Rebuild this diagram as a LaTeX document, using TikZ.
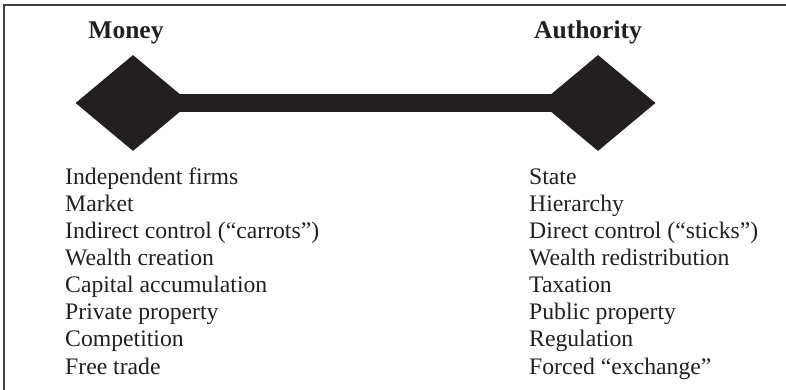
\documentclass[tikz,border=0pt]{standalone}
\usepackage{fontspec}
\setmainfont{Liberation Serif}
\usetikzlibrary{shapes.geometric}
\definecolor{ink}{HTML}{231F20}
\begin{document}
\begin{tikzpicture}[x=1pt,y=-1pt,
  pole/.style={diamond, fill=ink, draw=none, inner sep=0pt,
    minimum width=115pt, minimum height=96pt},
  head/.style={anchor=base, text=ink, font=\fontsize{25.5}{29}\selectfont\bfseries},
  item/.style={anchor=base west, text=ink, inner sep=0pt, font=\fontsize{23.7}{27}\selectfont},
  frame/.style={draw=ink!85, line width=1.6pt}]
  \useasboundingbox (0,0) rectangle (786,390);
  % open frame: top and left rules
  \coordinate (ftl) at (4,5);
  \coordinate (ftr) at (790,5);
  \coordinate (fbl) at (4,395);
  \draw[frame] (ftr) -- (ftl) -- (fbl);
  % the two poles joined by a thick bar
  \node[pole] (money) at (133,103) {};
  \node[pole] (auth) at (598,103) {};
  \draw[ink, line width=18pt] (money.center) -- (auth.center);
  \node[head] (moneyhead) at (126,39) {Money};
  \node[head] (authhead) at (588,39) {Authority};
  % left column
  \foreach \t [count=\i] in {Independent firms, Market,
      Indirect control (“carrots”), Wealth creation, Capital accumulation,
      Private property, Competition, Free trade}
    \node[item] (m\i) at (65,{184+27.15*(\i-1)}) {\t};
  % right column
  \foreach \t [count=\i] in {State, Hierarchy, Direct control (“sticks”),
      Wealth redistribution, Taxation, Public property, Regulation,
      Forced “exchange”}
    \node[item] (a\i) at (529,{184+27.15*(\i-1)}) {\t};
\end{tikzpicture}
\end{document}
